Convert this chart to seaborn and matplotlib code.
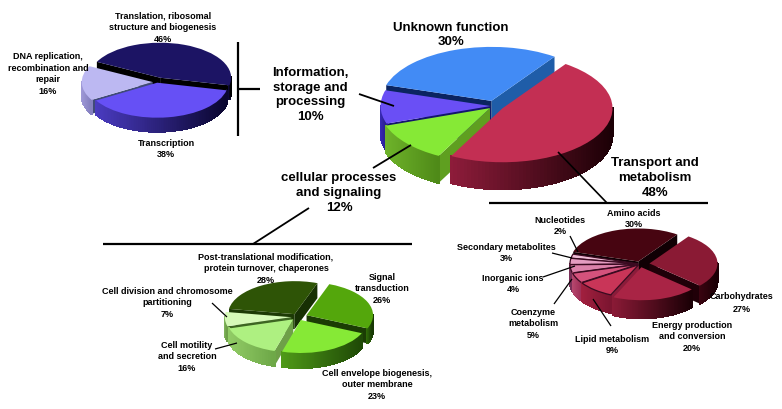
import numpy as np
import seaborn as sns
import matplotlib.pyplot as plt
from matplotlib.collections import PolyCollection
from matplotlib.colors import to_rgb

sns.set_theme(style="white")
plt.rcParams["font.family"] = ["Liberation Sans", "DejaVu Sans"]

W, H = 782, 410

# values, in clockwise order
main_names = ["Transport and\nmetabolism", "cellular processes\nand signaling", "Information,\nstorage and\nprocessing", "Unknown function"]
main_vals = [48, 12, 10, 30]
info_names = ["Translation, ribosomal\nstructure and biogenesis", "Transcription", "DNA replication,\nrecombination and\nrepair"]
info_vals = [46, 38, 16]
cell_names = ["Signal\ntransduction", "Cell envelope biogenesis,\nouter membrane", "Cell motility\nand secretion",
              "Cell division and chromosome\npartitioning", "Post-translational modification,\nprotein turnover, chaperones"]
cell_vals = [26, 23, 16, 7, 28]
meta_names = ["Carbohydrates", "Energy production\nand conversion", "Lipid metabolism", "Coenzyme\nmetabolism",
              "Inorganic ions", "Secondary metabolites", "Nucleotides", "Amino acids"]
meta_vals = [27, 20, 9, 5, 4, 3, 2, 30]

# colours per slice
main_top = ["#c32f53", "#86e936", "#6a4ff5", "#428bf5"]
main_wall = [("#8d1c3a", "#1c0006"), ("#6eb32a", "#4f8a18"), ("#3a2bb8", "#2a1f90"), ("#1d5ca8", "#1d5ca8")]
main_side = [("#7a1530", "#7a1530"), ("#5f9f20", "#5f9f20"), ("#14146e", "#14146e"), ("#1f5da8", "#0b2460")]
info_top = ["#1c1464", "#6650f5", "#bcb8f2"]
info_wall = [("#0c0838", "#000000"), ("#4a3bc0", "#0a0630"), ("#a09ad8", "#8580c0")]
info_side = [("#000000", "#000000"), ("#2c2490", "#2c2490"), ("#404a78", "#404a78")]
cell_top = ["#54a70c", "#86e936", "#aef081", "#d6fab8", "#2e5406"]
cell_wall = [("#2f6a08", "#173804"), ("#4f9a18", "#1f4a06"), ("#92cc66", "#6ea848"), ("#84b860", "#6ea048"), ("#1a3004", "#1a3004")]
cell_side = [("#1b3d04", "#1b3d04"), ("#3c7a0c", "#3c7a0c"), ("#a4d880", "#6ea048"), ("#3d6622", "#3d6622"), ("#173004", "#1d3a05")]
meta_top = ["#8a1a34", "#a92445", "#c93558", "#d4527c", "#dc82aa", "#e49cc0", "#eebbd5", "#470511"]
meta_wall = [("#3a0410", "#1c0006"), ("#8a1a36", "#1c0006"), ("#a2203f", "#7c1530"), ("#b84a70", "#a03058"),
             ("#7a3058", "#7a3058"), ("#7a3058", "#7a3058"), ("#7a3058", "#7a3058"), ("#250008", "#250008")]
meta_side = [("#200008", "#200008"), ("#7a1530", "#7a1530"), ("#8a1c3a", "#8a1c3a"), ("#5a1030", "#5a1030"),
             ("#4a1030", "#4a1030"), ("#4a1030", "#4a1030"), ("#4a1030", "#4a1030"), ("#100004", "#100004")]


def pie3d(fig, vals, top, wall, side, cx, cy, rx, ry, depth, start, explode, order=None, edged=()):
    # full figure axes, scaled so the unit circle becomes the wanted ellipse
    ax = fig.add_axes([0, 0, 1, 1])
    wedges, _ = ax.pie(vals, colors=top, startangle=start, counterclock=False, explode=explode,
                       wedgeprops={"linewidth": 0})
    ax.set_aspect("auto")
    ax.set_xlim(-cx / rx, (W - cx) / rx)
    ax.set_ylim((cy - H) / ry, cy / ry)
    d = depth / ry
    # painter's order, back slices first
    if order is None:
        order = sorted(range(len(wedges)), key=lambda i: -wedges[i].center[1] - 0.5 * np.sin(np.radians((wedges[i].theta1 + wedges[i].theta2) / 2)))
    for z, i in enumerate(order):
        w = wedges[i]
        x0, y0 = w.center
        w.set_zorder(3 * z + 2)
        if i in edged:
            w.set_edgecolor("#3a0a20")
            w.set_linewidth(0.9)
        for ang, col, sign in [(w.theta1, side[i][0], 1), (w.theta2, side[i][1], -1)]:
            a = np.radians(ang)
            if sign * np.cos(a) > 0:
                px, py = x0 + np.cos(a), y0 + np.sin(a)
                ax.fill([x0, px, px, x0], [y0, py, py - d, y0 - d], color=col, lw=0, zorder=3 * z + 1)
        # outer wall, only the part facing the viewer, shaded left to right
        t = np.radians(np.linspace(w.theta1, w.theta2, 90))
        quads, mids = [], []
        for a, b in zip(t[:-1], t[1:]):
            if np.sin((a + b) / 2) < 0:
                xa, ya = x0 + np.cos(a), y0 + np.sin(a)
                xb, yb = x0 + np.cos(b), y0 + np.sin(b)
                quads.append([(xa, ya), (xb, yb), (xb, yb - d), (xa, ya - d)])
                mids.append(np.cos((a + b) / 2))
        if quads:
            mids = np.array(mids)
            f = (mids - mids.min()) / max(mids.max() - mids.min(), 1e-6)
            c1, c2 = np.array(to_rgb(wall[i][0])), np.array(to_rgb(wall[i][1]))
            cols = [c1 + (c2 - c1) * v for v in f]
            ax.add_collection(PolyCollection(quads, facecolors=cols, edgecolors=cols, linewidths=0.8, antialiaseds=False, zorder=3 * z + 1))
    return ax


fig = plt.figure(figsize=(W / 100, H / 100), dpi=100)

pie3d(fig, info_vals, info_top, info_wall, info_side, 157, 83, 71, 35, 14, 153, [0.13, 0.02, 0.06])
pie3d(fig, main_vals, main_top, main_wall, main_side, 495, 107, 110, 54, 27, 55, [0.08, 0.06, 0.04, 0.1], order=[3, 2, 1, 0])
pie3d(fig, cell_vals, cell_top, cell_wall, cell_side, 298, 318, 66.5, 33, 15, 70, [0.14, 0.1, 0.1, 0.1, 0.1])
pie3d(fig, meta_vals, meta_top, meta_wall, meta_side, 640, 265, 68, 33, 18, 55, [0.14, 0.1, 0.03, 0.03, 0.03, 0.03, 0.03, 0.08], edged=(2, 3, 4, 5, 6))

# overlay in pixel coordinates for rules and labels
top = fig.add_axes([0, 0, 1, 1])
top.set_xlim(0, W)
top.set_ylim(H, 0)
top.axis("off")

rules = [
    ([238, 238], [43, 137], 1.6), ([238, 260], [90, 90], 1.6),
    ([359, 394], [95, 107], 1.3), ([373, 411], [169, 146], 1.3),
    ([558, 607], [153, 204], 1.2), ([489, 708], [204, 204], 1.6),
    ([309, 253], [209, 245], 1.3), ([103, 412], [245, 245], 1.6),
    ([212, 227], [304, 318], 0.9), ([215, 237], [350, 344], 0.9),
    ([570, 578], [237, 253], 0.9), ([552, 572], [254, 259], 0.9),
    ([543, 575], [278, 267], 0.9), ([554, 572], [305, 280], 0.9),
    ([611, 593], [327, 300], 0.9),
]
for xs, ys, lw in rules:
    top.plot(xs, ys, color="black", lw=lw, solid_capstyle="butt")


def label(name, val, x, y, size=6.5, spacing=1.42):
    top.text(x, y, f"{name}\n{val}%", ha="center", va="center", fontsize=size, fontweight="bold",
             color="black", linespacing=spacing)


big = 9.5
label(main_names[0], main_vals[0], 655, 178, big, 1.33)
label(main_names[1], main_vals[1], 339, 193, big, 1.33)
label(main_names[2], main_vals[2], 310, 95, big, 1.33)
label(main_names[3], main_vals[3], 451, 35, big, 1.33)

label(info_names[0], info_vals[0], 163, 28)
label(info_names[1], info_vals[1], 166, 149)
label(info_names[2], info_vals[2], 48, 74)

label(cell_names[0], cell_vals[0], 382, 289)
label(cell_names[1], cell_vals[1], 377, 385)
label(cell_names[2], cell_vals[2], 187, 357)
label(cell_names[3], cell_vals[3], 167, 303)
label(cell_names[4], cell_vals[4], 266, 269)

label(meta_names[0], meta_vals[0], 742, 303, spacing=1.7)
label(meta_names[1], meta_vals[1], 692, 337)
label(meta_names[2], meta_vals[2], 612, 345)
label(meta_names[3], meta_vals[3], 533, 324)
label(meta_names[4], meta_vals[4], 513, 284)
label(meta_names[5], meta_vals[5], 506, 253)
label(meta_names[6], meta_vals[6], 560, 226)
label(meta_names[7], meta_vals[7], 634, 219)

fig.savefig("out.png", dpi=100)
